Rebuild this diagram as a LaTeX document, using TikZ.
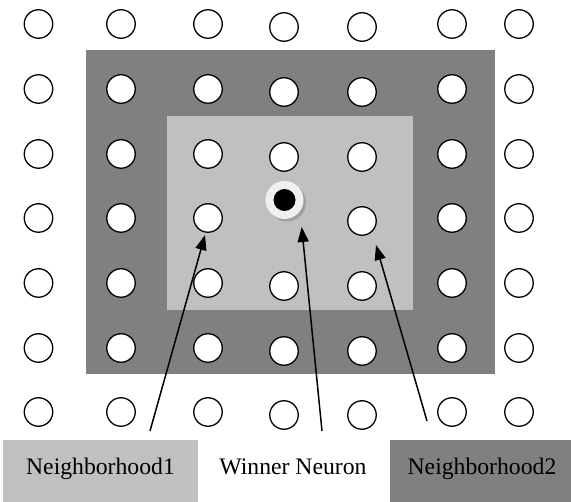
\documentclass[tikz,border=0pt]{standalone}
\usepackage{fontspec}
\setmainfont{Liberation Serif}
\usetikzlibrary{arrows.meta,shadows}
\definecolor{darkbox}{HTML}{808080}
\definecolor{lightbox}{HTML}{C0C0C0}
\definecolor{ringwhite}{HTML}{F0F0F0}
\definecolor{shadowgray}{HTML}{A0A0A0}
\begin{document}
\begin{tikzpicture}[x=1pt,y=-1pt,
  neuron/.style={circle,draw=black,line width=1.3pt,fill=white,minimum size=28.5pt,inner sep=0pt},
  winnerring/.style={circle,fill=ringwhite,minimum size=38pt,inner sep=0pt,
    drop shadow={shadow xshift=2.5pt,shadow yshift=-2.5pt,fill=shadowgray,opacity=1}},
  winnercore/.style={circle,fill=black,minimum size=22pt,inner sep=0pt},
  pointer/.style={line width=1.5pt,-{Triangle[length=15pt,width=11pt]}},
  labelbox/.style={anchor=north west,inner sep=0pt,minimum height=62pt},
  labeltext/.style={font=\fontsize{23.7}{28}\selectfont,anchor=base,inner sep=0pt}]
\useasboundingbox (0,0) rectangle (571,502);
\fill[darkbox] (86,50) rectangle (495,374);
\fill[lightbox] (167,116) rectangle (413,310);
\foreach \y [count=\r] in {24,89,154,218,283,348,412} {
  \foreach \x/\dy [count=\c] in {38.5/0,121/0,208/0,284/3,362/3,452/0,519/0} {
    \pgfmathtruncatemacro{\isw}{(\r==4)&&(\c==4)}
    \ifnum\isw=0 \node[neuron] (n\r\c) at (\x,\y+\dy) {};\fi
  }
}
\node[winnerring] (win) at (284.5,200) {};
\node[winnercore] (wincore) at (win.center) {};
% label boxes
\node[labelbox,fill=lightbox,minimum width=195pt] (nb1box) at (3,440) {};
\node[labelbox,fill=darkbox,minimum width=181pt] (nb2box) at (390,440) {};
\node[labeltext] (nb1) at (100.5,475) {Neighborhood1};
\node[labeltext] (wn) at (293,475) {Winner Neuron};
\node[labeltext] (nb2) at (482,475) {Neighborhood2};
% arrows
\coordinate (t1) at (150,431);
\coordinate (h1) at (205,235);
\coordinate (t2) at (322,431);
\coordinate (h2) at (301.7,227);
\coordinate (t3) at (427,421);
\coordinate (h3) at (376,245);
\draw[pointer] (t1) -- (h1);
\draw[pointer] (t2) -- (h2);
\draw[pointer] (t3) -- (h3);
\end{tikzpicture}
\end{document}
